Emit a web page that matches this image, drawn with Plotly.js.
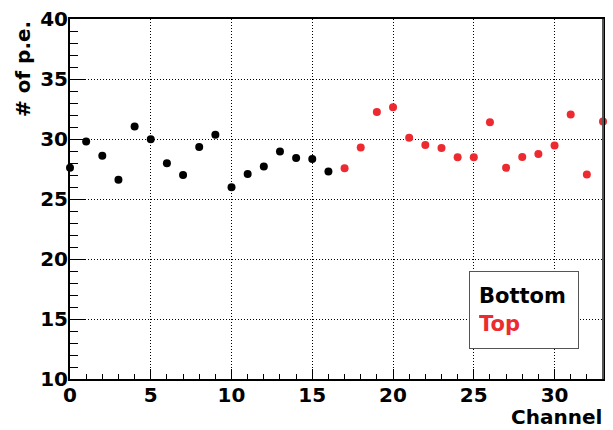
<!DOCTYPE html>
<html>
<head>
<meta charset="utf-8">
<script src="https://cdn.plot.ly/plotly-3.0.1.min.js"></script>
<style>html,body{margin:0;padding:0;background:#fff;}#chart{width:613px;height:430px;}</style>
</head>
<body>
<div id="chart"></div>
<script>
var bottomChannels = [0,1,2,3,4,5,6,7,8,9,10,11,12,13,14,15,16];
var bottomPE = [27.6,29.8,28.6,26.6,31.05,29.97,27.97,27.0,29.33,30.35,25.97,27.08,27.7,28.95,28.42,28.33,27.3];
var topChannels = [17,18,19,20,21,22,23,24,25,26,27,28,29,30,31,32,33];
var topPE = [27.56,29.3,32.25,32.65,30.1,29.5,29.25,28.47,28.47,31.4,27.6,28.5,28.75,29.45,32.05,27.05,31.45];
var xTickVals = [0,5,10,15,20,25,30];
var yTickVals = [10,15,20,25,30,35,40];

var font = "DejaVu Sans, Liberation Sans, Arial, sans-serif";
var red = "#ec2a30";

var traces = [
  {x: bottomChannels, y: bottomPE, mode: "markers", type: "scatter", name: "Bottom",
   marker: {color: "#000000", size: 8}, cliponaxis: false, showlegend: false},
  {x: topChannels, y: topPE, mode: "markers", type: "scatter", name: "Top",
   marker: {color: red, size: 8}, cliponaxis: false, showlegend: false}
];

var layout = {
  width: 613, height: 430,
  margin: {l: 70, r: 10, t: 19, b: 51},
  paper_bgcolor: "#ffffff", plot_bgcolor: "#ffffff",
  font: {family: font, color: "#000"},
  showlegend: false,
  xaxis: {
    range: [0, 33], tickvals: xTickVals, ticktext: xTickVals.map(String),
    ticks: "inside", ticklen: 10, tickwidth: 1, tickcolor: "#000",
    minor: {dtick: 1, tick0: 0, ticks: "inside", ticklen: 5, tickcolor: "#000", showgrid: false},
    showline: true, linecolor: "#000", linewidth: 2, mirror: true,
    showgrid: true, gridcolor: "#000", griddash: "1px,2px", gridwidth: 1,
    zeroline: false, ticklabelstandoff: -3,
    tickfont: {family: font, size: 20, weight: "bold", color: "#000"},
    fixedrange: true
  },
  yaxis: {
    range: [10, 40], tickvals: yTickVals, ticktext: yTickVals.map(String),
    ticks: "inside", ticklen: 16, tickwidth: 1, tickcolor: "#000",
    minor: {dtick: 1, tick0: 10, ticks: "inside", ticklen: 8, tickcolor: "#000", showgrid: false},
    showline: true, linecolor: "#000", linewidth: 2, mirror: true,
    showgrid: true, gridcolor: "#000", griddash: "1px,2px", gridwidth: 1,
    zeroline: false, ticklabelstandoff: -4,
    tickfont: {family: font, size: 20, weight: "bold", color: "#000"},
    fixedrange: true
  },
  shapes: [
    {type: "line", xref: "paper", yref: "paper", x0: 1, x1: 1, y0: 0, y1: 1,
     line: {color: "#555555", width: 2}}
  ],
  annotations: [
    {text: "# of p.e.", xref: "paper", yref: "paper", x: 0, y: 1, xshift: -47,
     xanchor: "center", yanchor: "top", textangle: -90, showarrow: false,
     font: {family: font, size: 20, weight: "bold", color: "#000"}},
    {text: "Channel", xref: "paper", yref: "paper", x: 1, y: 0, yshift: -51,
     xanchor: "right", yanchor: "bottom", showarrow: false, borderpad: 0,
     font: {family: font, size: 20, weight: "bold", color: "#000"}},
    {text: "Bottom<br><span style='color:" + red + "'>Top</span>",
     xref: "paper", yref: "paper", x: 0.749, y: 0.30, xanchor: "left", yanchor: "top",
     showarrow: false, align: "left", valign: "middle",
     width: 90, height: 58, borderpad: 9,
     bordercolor: "#555555", borderwidth: 1, bgcolor: "#ffffff",
     font: {family: font, size: 21, weight: "bold", color: "#000"}}
  ]
};

Plotly.newPlot("chart", traces, layout, {displayModeBar: false, staticPlot: true});
</script>
</body>
</html>
